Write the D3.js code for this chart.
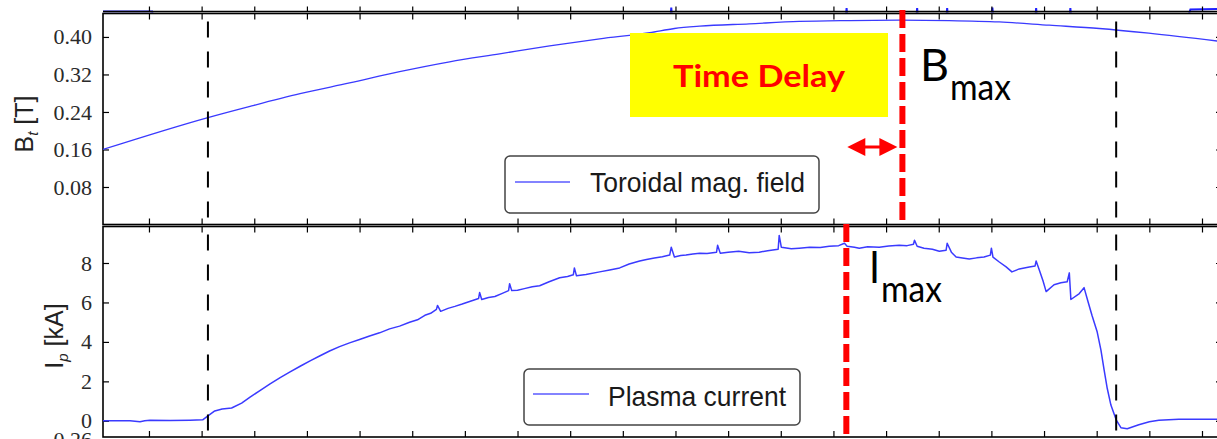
<!DOCTYPE html>
<html>
<head>
<meta charset="utf-8">
<script src="https://cdn.jsdelivr.net/npm/d3@7"></script>
<style>
  html, body { margin: 0; padding: 0; background: #ffffff; }
  svg { display: block; }
</style>
</head>
<body>
<svg id="chart" width="1217" height="439"></svg>
<script>
// ---- data (time in tick units, field in T, current in kA) ----
const btTime  = [-0.873, 1.12, 1.92, 2.87, 3.81, 4.76, 5.71, 6.66, 7.61, 8.56, 9.51, 9.98, 10.46, 11.40, 12.35, 13.30, 14.25, 15.20, 16.15, 17.10, 18.05, 18.99, 20.38];
const btValue = [0.160, 0.228, 0.252, 0.279, 0.302, 0.326, 0.347, 0.364, 0.381, 0.396, 0.409, 0.418, 0.423, 0.428, 0.433, 0.435, 0.436, 0.435, 0.432, 0.425, 0.418, 0.408, 0.390];

const ipTime  = [-0.873, -0.36, -0.17, -0.08, 0.02, 0.40, 0.78, 1.02, 1.12, 1.25, 1.39, 1.57, 1.76, 1.92, 2.10, 2.30, 2.50, 2.68, 2.88, 3.06, 3.25, 3.43, 3.62, 3.81, 4.00, 4.19, 4.38, 4.57, 4.76, 4.95, 5.10, 5.24, 5.35, 5.46, 5.48, 5.54, 5.68, 5.81, 5.95, 6.09, 6.26, 6.28, 6.32, 6.45, 6.57, 6.70, 6.83, 6.85, 6.89, 7.00, 7.13, 7.28, 7.42, 7.60, 7.80, 7.95, 8.06, 8.08, 8.12, 8.30, 8.56, 8.75, 8.94, 9.12, 9.32, 9.45, 9.60, 9.75, 9.89, 9.92, 9.98, 10.10, 10.20, 10.33, 10.46, 10.60, 10.78, 10.80, 10.85, 11.00, 11.20, 11.40, 11.59, 11.75, 11.95, 11.97, 12.01, 12.20, 12.35, 12.55, 12.75, 12.92, 13.10, 13.21, 13.26, 13.40, 13.49, 13.65, 13.87, 14.05, 14.25, 14.40, 14.52, 14.54, 14.59, 14.72, 14.88, 15.01, 15.14, 15.16, 15.24, 15.33, 15.45, 15.58, 15.72, 15.86, 15.98, 16.00, 16.03, 16.15, 16.28, 16.39, 16.53, 16.72, 16.83, 16.85, 16.91, 16.98, 17.04, 17.19, 17.32, 17.44, 17.48, 17.51, 17.67, 17.76, 17.84, 17.91, 18.01, 18.08, 18.14, 18.20, 18.27, 18.37, 18.46, 18.58, 18.80, 19.00, 19.18, 19.56, 20.38];
const ipValue = [0.00, 0.00, -0.05, 0.00, 0.03, 0.02, 0.03, 0.05, 0.25, 0.50, 0.60, 0.65, 0.90, 1.20, 1.52, 1.87, 2.20, 2.48, 2.78, 3.04, 3.30, 3.54, 3.76, 3.95, 4.12, 4.30, 4.46, 4.66, 4.80, 5.00, 5.12, 5.35, 5.45, 5.65, 5.85, 5.55, 5.70, 5.80, 5.92, 6.05, 6.20, 6.50, 6.15, 6.25, 6.30, 6.45, 6.60, 6.95, 6.60, 6.62, 6.70, 6.80, 6.85, 7.05, 7.25, 7.32, 7.40, 7.75, 7.35, 7.42, 7.55, 7.65, 7.75, 7.95, 8.10, 8.18, 8.25, 8.32, 8.40, 8.80, 8.30, 8.38, 8.40, 8.46, 8.50, 8.48, 8.55, 8.90, 8.50, 8.55, 8.60, 8.52, 8.55, 8.62, 8.70, 9.40, 8.80, 8.72, 8.75, 8.80, 8.78, 8.85, 8.88, 9.00, 8.85, 8.80, 8.75, 8.82, 8.80, 8.86, 8.90, 8.88, 8.95, 9.15, 8.85, 8.75, 8.70, 8.60, 8.65, 9.00, 8.55, 8.30, 8.25, 8.20, 8.26, 8.30, 8.40, 8.75, 8.30, 8.05, 7.80, 7.55, 7.70, 7.80, 7.85, 8.10, 7.65, 7.10, 6.55, 6.90, 7.00, 7.05, 7.50, 6.15, 6.45, 6.75, 6.00, 5.35, 4.50, 3.60, 2.60, 1.65, 0.80, 0.05, -0.35, -0.40, -0.20, -0.05, 0.03, 0.08, 0.08];

// signal of the panel above, only its lowest excursions reach this view
const upperTime  = [-0.873, 0.06, 0.10, 9.90, 9.92, 9.94, 13.23, 13.25, 13.27, 14.57, 14.59, 14.61, 15.14, 15.16, 15.18, 16.00, 16.02, 16.04, 16.83, 16.85, 16.87, 17.48, 17.50, 17.52, 19.70, 19.78, 20.38];
const upperValue = [0.05, 0.05, -1, -1, 0.45, -1, -1, 0.40, -1, -1, 0.40, -1, -1, 0.40, -1, -1, 0.45, -1, -1, 0.40, -1, -1, 0.40, -1, -1, 0.25, 0.30];

const xTicks  = d3.range(0, 21);
const btTicks = [0.08, 0.16, 0.24, 0.32, 0.40];
const ipTicks = [0, 2, 4, 6, 8];
const lowerTicks = [0.26];

const eventTimes = [1.12, 18.37];   // black dashed markers
const bMaxTime = 14.31;             // peak of toroidal field
const iMaxTime = 13.245;            // peak of plasma current

// ---- layout ----
const svg = d3.select("#chart");
const left = 103, right = 1222;
const upperBottom = 11.5;
const top1 = 13.5, bot1 = 224.5;
const top2 = 226.5, bot2 = 437;
const top3 = 439.5;

const x = d3.scaleLinear().domain([-0.873, 20.38]).range([left, right]);
const yBt = d3.scaleLinear().domain([0, 0.45]).range([bot1, top1]);
const yIp = d3.scaleLinear().domain([-0.82, 9.85]).range([bot2, top2]);
const yUp = d3.scaleLinear().domain([0, 1]).range([12, 2]);
const yLow = d3.scaleLinear().domain([0.26, 0]).range([439, 520]);

const blue = "#3a3aff";

// clip regions
const defs = svg.append("defs");
defs.append("clipPath").attr("id", "clipUp").append("rect")
  .attr("x", left).attr("y", 0).attr("width", right - left).attr("height", 12.5);
defs.append("clipPath").attr("id", "clipBt").append("rect")
  .attr("x", left).attr("y", top1).attr("width", right - left).attr("height", bot1 - top1);
defs.append("clipPath").attr("id", "clipIp").append("rect")
  .attr("x", left).attr("y", top2).attr("width", right - left).attr("height", bot2 - top2);

// ---- panel above (cropped) ----
svg.append("path")
  .datum(d3.zip(upperTime, upperValue))
  .attr("clip-path", "url(#clipUp)")
  .attr("fill", "none").attr("stroke", "#2020ff").attr("stroke-width", 2)
  .attr("d", d3.line().x(d => x(d[0])).y(d => yUp(d[1])));
svg.append("g").attr("transform", `translate(0,${upperBottom})`)
  .call(d3.axisBottom(x).tickValues(xTicks).tickSize(-5).tickFormat(""))
  .call(g => g.select(".domain").remove())
  .call(g => g.selectAll("line").attr("stroke", "#000").attr("stroke-width", 1.2));
svg.append("line").attr("x1", left).attr("x2", right)
  .attr("y1", upperBottom).attr("y2", upperBottom)
  .attr("stroke", "#000").attr("stroke-width", 1.4);

// ---- generic panel frame with inward ticks ----
function frame(y0, y1, yScale, ticks, fmt) {
  const g = svg.append("g");
  const styleTicks = s => s.call(g => g.select(".domain").remove())
    .call(g => g.selectAll(".tick line").attr("stroke", "#000").attr("stroke-width", 1.2));
  g.append("g").attr("transform", `translate(0,${y0})`)
    .call(d3.axisTop(x).tickValues(xTicks).tickSize(-6).tickFormat("")).call(styleTicks);
  g.append("g").attr("transform", `translate(0,${y1})`)
    .call(d3.axisBottom(x).tickValues(xTicks).tickSize(-6).tickFormat("")).call(styleTicks);
  g.append("g").attr("transform", `translate(${right},0)`)
    .call(d3.axisRight(yScale).tickValues(ticks).tickSize(-6).tickFormat("")).call(styleTicks);
  const ax = g.append("g").attr("transform", `translate(${left},0)`)
    .call(d3.axisLeft(yScale).tickValues(ticks).tickSize(-6).tickPadding(11).tickFormat(fmt))
    .call(styleTicks);
  ax.selectAll("text")
    .attr("font-family", "'Liberation Serif', 'DejaVu Serif', serif")
    .attr("font-size", 22).attr("fill", "#2a2a2a");
  g.append("rect").attr("x", left).attr("y", y0)
    .attr("width", right - left).attr("height", y1 - y0)
    .attr("fill", "none").attr("stroke", "#000").attr("stroke-width", 1.6);
  return g;
}

frame(top1, bot1, yBt, btTicks, d3.format(".2f"));
frame(top2, bot2, yIp, ipTicks, d3.format("d"));

// panel below (only its top edge and first label are in view)
svg.append("g").attr("transform", `translate(0,${top3})`)
  .call(d3.axisTop(x).tickValues(xTicks).tickSize(-6).tickFormat(""))
  .call(g => g.select(".domain").remove())
  .call(g => g.selectAll("line").attr("stroke", "#000").attr("stroke-width", 1.2));
svg.append("line").attr("x1", left).attr("x2", left).attr("y1", top3).attr("y2", 450)
  .attr("stroke", "#000").attr("stroke-width", 1.6);
svg.append("g").attr("transform", `translate(${left},0)`)
  .call(d3.axisLeft(yLow).tickValues(lowerTicks).tickSize(0).tickPadding(11).tickFormat(d3.format(".2f")))
  .call(g => g.select(".domain").remove())
  .call(g => g.selectAll("text")
    .attr("font-family", "'Liberation Serif', 'DejaVu Serif', serif")
    .attr("font-size", 22).attr("fill", "#2a2a2a"));

// ---- curves ----
svg.append("path")
  .datum(d3.zip(btTime, btValue))
  .attr("clip-path", "url(#clipBt)")
  .attr("fill", "none").attr("stroke", blue).attr("stroke-width", 1.3)
  .attr("d", d3.line().curve(d3.curveMonotoneX).x(d => x(d[0])).y(d => yBt(d[1])));

svg.append("path")
  .datum(d3.zip(ipTime, ipValue))
  .attr("clip-path", "url(#clipIp)")
  .attr("fill", "none").attr("stroke", blue).attr("stroke-width", 1.5)
  .attr("stroke-linejoin", "round")
  .attr("d", d3.line().x(d => x(d[0])).y(d => yIp(d[1])));

// ---- black dashed event markers ----
[[top1, bot1], [top2, bot2]].forEach(([y0, y1]) => {
  svg.selectAll(null).data(eventTimes).enter().append("line")
    .attr("x1", d => x(d)).attr("x2", d => x(d))
    .attr("y1", y0).attr("y2", y1)
    .attr("stroke", "#000").attr("stroke-width", 2)
    .attr("stroke-dasharray", "16,14").attr("stroke-dashoffset", -8);
});

// ---- axis titles ----
const sans = "'Liberation Sans', Arial, sans-serif";
const bt = svg.append("text")
  .attr("transform", "translate(33,124) rotate(-90)")
  .attr("text-anchor", "middle")
  .attr("font-family", sans).attr("font-size", 25).attr("fill", "#222");
bt.append("tspan").text("B");
bt.append("tspan").attr("font-size", 15).attr("font-style", "italic").attr("dy", 5).text("t");
bt.append("tspan").attr("dy", -5).text(" [T]");

const ip = svg.append("text")
  .attr("transform", "translate(63,336) rotate(-90)")
  .attr("text-anchor", "middle")
  .attr("font-family", sans).attr("font-size", 25).attr("fill", "#222");
ip.append("tspan").text("I");
ip.append("tspan").attr("font-size", 15).attr("font-style", "italic").attr("dy", 5).text("p");
ip.append("tspan").attr("dy", -5).text(" [kA]");

// ---- legends ----
function legend(bx, by, bw, bh, lx0, lx1, ly, tx, ty, tlen, label) {
  const g = svg.append("g");
  g.append("rect").attr("x", bx).attr("y", by).attr("width", bw).attr("height", bh)
    .attr("rx", 5).attr("fill", "#fff").attr("stroke", "#444").attr("stroke-width", 1.5);
  g.append("line").attr("x1", lx0).attr("x2", lx1).attr("y1", ly).attr("y2", ly)
    .attr("stroke", "#5a5aff").attr("stroke-width", 1.5);
  g.append("text").attr("x", tx).attr("y", ty)
    .attr("font-family", sans).attr("font-size", 28).attr("fill", "#1a1a1a")
    .attr("textLength", tlen).attr("lengthAdjust", "spacingAndGlyphs")
    .text(label);
}
legend(505, 156, 314, 57, 515, 570, 182, 590, 192, 215, "Toroidal mag. field");
legend(524, 369, 276, 56, 533, 589, 394, 608, 406, 178, "Plasma current");

// ---- annotations ----
const calib = "Lato, 'Open Sans', sans-serif";
svg.append("rect").attr("x", 630).attr("y", 33).attr("width", 258).attr("height", 84)
  .attr("fill", "#ffff00");
svg.append("text").attr("x", 673).attr("y", 87)
  .attr("font-family", calib).attr("font-weight", 700).attr("font-size", 30)
  .attr("fill", "#ff0000")
  .attr("textLength", 172).attr("lengthAdjust", "spacingAndGlyphs")
  .text("Time Delay");

// red dashed peak markers
svg.append("line").attr("x1", x(bMaxTime)).attr("x2", x(bMaxTime))
  .attr("y1", 10).attr("y2", 222)
  .attr("stroke", "#ff0000").attr("stroke-width", 6).attr("stroke-dasharray", "18,6");
svg.append("line").attr("x1", x(iMaxTime)).attr("x2", x(iMaxTime))
  .attr("y1", 224).attr("y2", 439)
  .attr("stroke", "#ff0000").attr("stroke-width", 6).attr("stroke-dasharray", "18,6");

// double arrow spanning the delay
const ax0 = x(iMaxTime) + 1, ax1 = x(bMaxTime) - 5, ay = 147, hl = 18, hh = 9;
svg.append("line").attr("x1", ax0 + hl - 2).attr("x2", ax1 - hl + 2).attr("y1", ay).attr("y2", ay)
  .attr("stroke", "#ff0000").attr("stroke-width", 3);
svg.append("path").attr("fill", "#ff0000")
  .attr("d", `M${ax0},${ay} L${ax0 + hl},${ay - hh} L${ax0 + hl},${ay + hh} Z`);
svg.append("path").attr("fill", "#ff0000")
  .attr("d", `M${ax1},${ay} L${ax1 - hl},${ay - hh} L${ax1 - hl},${ay + hh} Z`);

// B_max and I_max labels
function peakLabel(xm, ym, main, mainLen, xs, ys, subLen) {
  svg.append("text").attr("x", xm).attr("y", ym)
    .attr("font-family", calib).attr("font-size", 44).attr("fill", "#000")
    .attr("textLength", mainLen).attr("lengthAdjust", "spacingAndGlyphs")
    .text(main);
  svg.append("text").attr("x", xs).attr("y", ys)
    .attr("font-family", calib).attr("font-size", 37).attr("fill", "#000")
    .attr("textLength", subLen).attr("lengthAdjust", "spacingAndGlyphs")
    .text("max");
}
peakLabel(920, 81, "B", 29, 950, 100, 61);
peakLabel(869, 283, "I", 11, 881, 302, 61);
</script>
</body>
</html>
